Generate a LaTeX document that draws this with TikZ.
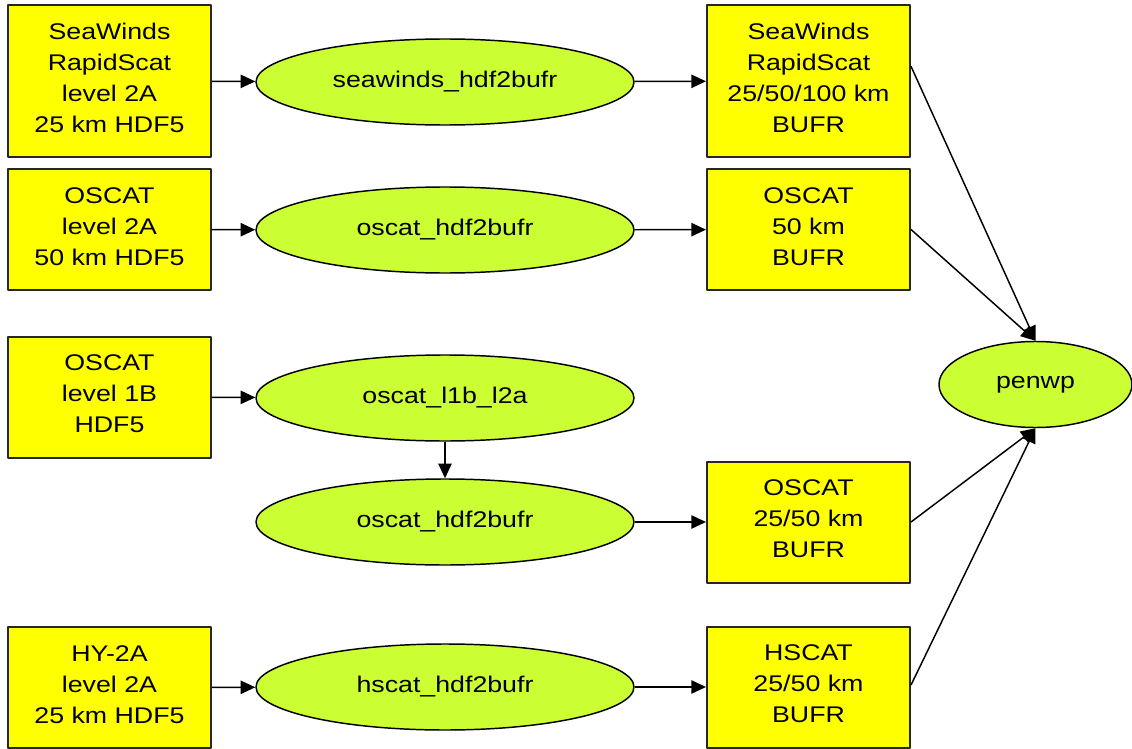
\documentclass[tikz,border=0pt]{standalone}
\usepackage{fontspec}
\setmainfont{Liberation Sans}[FakeStretch=1.18]
\usetikzlibrary{shapes.geometric,arrows.meta}
\definecolor{boxyellow}{RGB}{255,255,0}
\definecolor{proglime}{RGB}{204,255,51}
\begin{document}
\begin{tikzpicture}[x=0.75pt, y=-0.75pt, font=\fontsize{17}{23.25}\selectfont, line join=round, >={Triangle[length=11pt,width=10pt]},
    datafile/.style={draw=black!85, line width=1.5pt, fill=boxyellow, align=center, text depth=5pt, minimum width=152.25pt, minimum height=90.75pt, inner sep=0pt},
    prog/.style={ellipse, draw, line width=1.1pt, fill=proglime, minimum width=283.5pt, minimum height=64.5pt, inner sep=0pt},
    flow/.style={->, line width=1.1pt}]
            \useasboundingbox (0,0) rectangle (1132,749);
            \def\xl{109.5} \def\xm{445} \def\xr{808.5} % columns: input, program, output
            \node[datafile, minimum height=114pt] (lsea) at (\xl,81) {SeaWinds\\RapidScat\\level 2A\\25 km HDF5};
            \node[datafile] (losc) at (\xl,229.5) {OSCAT\\level 2A\\50 km HDF5};
            \node[datafile] (ll1b) at (\xl,397) {OSCAT\\level 1B\\HDF5};
            \node[datafile] (lhy) at (\xl,687.5) {HY-2A\\level 2A\\25 km HDF5};
            \node[prog] (psea) at (\xm,82) {seawinds\_hdf2bufr};
            \node[prog] (posc) at (\xm,230) {oscat\_hdf2bufr};
            \node[prog] (pl1b) at (\xm,398) {oscat\_l1b\_l2a};
            \node[prog] (pl2a) at (\xm,522) {oscat\_hdf2bufr};
            \node[prog] (phs) at (\xm,687) {hscat\_hdf2bufr};
            \node[datafile, minimum height=114pt] (rsea) at (\xr,81) {SeaWinds\\RapidScat\\25/50/100 km\\BUFR};
            \node[datafile] (rosc) at (\xr,229.5) {OSCAT\\50 km\\BUFR};
            \node[datafile] (rl2a) at (\xr,522) {OSCAT\\25/50 km\\BUFR};
            \node[datafile] (rhs) at (\xr,687) {HSCAT\\25/50 km\\BUFR};
            \node[prog, minimum width=144.75pt] (penwp) at (1035.5,384.5) {penwp};
            \foreach \a/\b in {lsea/psea, psea/rsea, losc/posc, posc/rosc, ll1b/pl1b, pl1b/pl2a, pl2a/rl2a, lhy/phs, phs/rhs}
                \draw[flow] (\a) -- (\b);
            \draw[flow] ([yshift=11pt]rsea.east) -- (penwp.north);
            \draw[flow] (rosc.east) -- (penwp.north);
            \draw[flow] (rl2a.east) -- (penwp.south);
            \draw[flow] ([yshift=1.5pt]rhs.east) -- (penwp.south);
        \end{tikzpicture}
\end{document}
